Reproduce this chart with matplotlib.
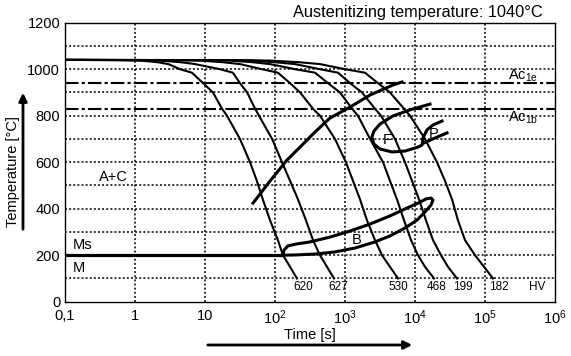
import matplotlib
matplotlib.use('Agg')
import matplotlib.pyplot as plt

plt.rcParams['font.family'] = ['Liberation Sans', 'DejaVu Sans']
plt.rcParams['mathtext.fontset'] = 'custom'
plt.rcParams['mathtext.rm'] = 'Liberation Sans'
plt.rcParams['mathtext.default'] = 'regular'

# --------- data (time in s, temperature in degC)

T_levels = [1040, 1039, 1037, 1030, 1022, 1000, 985, 940, 900, 830, 800, 700, 600, 520, 440, 350, 265, 200, 150, 100]

t_620 = [0.1, 0.6, 1.2, 2.1, 3.0, 4.4, 6.5, 9.4, 13, 17.5, 20.6, 31.6, 44, 55, 67, 85, 110, 130, 164, 206]
t_627 = [0.1, 1.0, 2.3, 4.5, 7.2, 16.4, 25, 31.6, 40, 52, 59, 91, 126, 164, 213, 277, 349, 439, 553, 696]
t_530 = [0.1, 3.5, 8.5, 18, 31.6, 65, 110, 164, 228, 349, 439, 719, 1030, 1300, 1640, 2060, 2680, 3380, 4390, 5720]
t_468 = [0.1, 10, 22.8, 48, 85, 193, 373, 571, 849, 1260, 1530, 2280, 3490, 4390, 5530, 6970, 8770, 11040, 13900, 18660]
t_199 = [0.1, 20, 44, 100, 193, 439, 794, 1180, 1750, 2680, 3270, 5180, 7200, 9060, 11410, 14360, 18070, 23500, 29590, 39810]
t_182 = [0.1, 40, 85, 220, 439, 1000, 1930, 2960, 4390, 6970, 8480, 13900, 20600, 26800, 33800, 41100, 51800, 72000, 96800, 130000]

cooling_times = [t_620, t_627, t_530, t_468, t_199, t_182]
hv_labels = ['620', '627', '530', '468', '199', '182']
hv_label_times = [251, 794, 5717, 20600, 48500, 158000]

# ferrite start line (left branch)
fs_t = [48.5, 84.8, 148, 228, 373, 611, 1180, 2280, 4850, 6520]
fs_T = [424, 519, 609, 665, 730, 790, 837, 889, 932, 945]

# ferrite nose + pearlite start
fp_t = [16380, 8480, 4850, 3160, 2590, 2420, 2590, 3160, 4690, 7200, 11040, 12590, 13010, 14830, 18070, 24330]
fp_T = [850, 825, 799, 764, 734, 708, 678, 657, 644, 648, 665, 674, 704, 739, 760, 777]

# pearlite finish
pf_t = [13450, 19310, 28650]
pf_T = [683, 704, 726]

# bainite loop
b_t = [130, 134.5, 153, 200, 316, 611, 1180, 2280, 4390, 7200, 11040, 14360, 16940, 18070,
       16940, 13900, 10680, 7200, 4390, 2680, 1390, 720, 373, 193, 130]
b_T = [201, 222, 240, 248, 257, 278, 304, 334, 369, 399, 424, 442, 446, 437,
       416, 386, 351, 317, 283, 257, 231, 214, 205, 201, 200]

Ms = 200
Ms_end = 130
Ac1e = 940
Ac1b = 830

W, H = 571, 356
fig = plt.figure(figsize=(W / 100, H / 100), dpi=100)
ax = fig.add_axes([65 / W, 1 - 301.7 / H, 490 / W, 279 / H])
ax.set_xscale('log')
ax.set_xlim(0.1, 1e6)
ax.set_ylim(0, 1200)

# dotted grid
for xv in [1, 10, 1e2, 1e3, 1e4, 1e5]:
    ax.axvline(xv, color='k', lw=1.1, linestyle=(0, (1.3, 1.4)), zorder=1)
for yv in range(100, 1200, 100):
    ax.axhline(yv, color='k', lw=1.1, linestyle=(0, (1.3, 1.4)), zorder=1)

# Ac lines
for yv in [Ac1e, Ac1b]:
    ax.axhline(yv, color='k', lw=1.5, linestyle=(0, (6.5, 1.5, 1.5, 1.5)), zorder=2)

# cooling curves
for ts in cooling_times:
    ax.plot(ts, T_levels, color='k', lw=1.5, zorder=3)

# transformation lines
ax.plot([0.1, Ms_end], [Ms, Ms], color='k', lw=2.3, zorder=4)
ax.plot(fs_t, fs_T, color='k', lw=2.2, zorder=4)
ax.plot(fp_t, fp_T, color='k', lw=2.2, zorder=4)
ax.plot(pf_t, pf_T, color='k', lw=2.2, zorder=4)
ax.plot(b_t, b_T, color='k', lw=2.2, zorder=4)

# labels inside
fs = 10.5
ax.text(0.485, 536, 'A+C', fontsize=fs, ha='center', va='center')
ax.text(0.13, 244, 'Ms', fontsize=fs, ha='left', va='center')
ax.text(0.13, 145, 'M', fontsize=fs, ha='left', va='center')
ax.text(3981, 696, 'F', fontsize=fs, ha='center', va='center')
ax.text(18700, 721, 'P', fontsize=fs, ha='center', va='center')
ax.text(1484, 265, 'B', fontsize=fs, ha='center', va='center')
ax.text(2.1e5, 972, r'Ac$_{1e}$', fontsize=fs, ha='left', va='center')
ax.text(2.1e5, 790, r'Ac$_{1b}$', fontsize=fs, ha='left', va='center')
for lab, tx in zip(hv_labels, hv_label_times):
    ax.text(tx, 63, lab, fontsize=8.5, ha='center', va='center')
ax.text(5.53e5, 63, 'HV', fontsize=8.5, ha='center', va='center')

# ticks
ax.set_xticks([0.1, 1, 10, 1e2, 1e3, 1e4, 1e5, 1e6])
ax.set_xticklabels(['0,1', '1', '10', '$10^2$', '$10^3$', '$10^4$', '$10^5$', '$10^6$'])
ax.xaxis.set_minor_locator(matplotlib.ticker.NullLocator())
ax.set_yticks(range(0, 1201, 200))
ax.tick_params(length=0, labelsize=10.5)
ax.tick_params(axis='x', pad=5)
ax.tick_params(axis='y', pad=3.5)
for sp in ax.spines.values():
    sp.set_linewidth(1.0)

# axis titles with arrows
fig.text(13 / W, 1 - 172 / H, 'Temperature [°C]', rotation=90, fontsize=10.5, ha='center', va='center')
ax.annotate('', xy=(23, H - 90), xytext=(23, H - 232), xycoords='figure pixels',
            arrowprops=dict(arrowstyle='-|>', lw=2, color='k', mutation_scale=12))
fig.text(310 / W, 1 - 335 / H, 'Time [s]', fontsize=10.5, ha='center', va='center')
ax.annotate('', xy=(415, H - 345), xytext=(205, H - 345), xycoords='figure pixels',
            arrowprops=dict(arrowstyle='-|>', lw=2, color='k', mutation_scale=12))
fig.text(543 / W, 1 - 12 / H, 'Austenitizing temperature: 1040°C', fontsize=11.8, ha='right', va='center')

fig.savefig('out.png', dpi=100)
